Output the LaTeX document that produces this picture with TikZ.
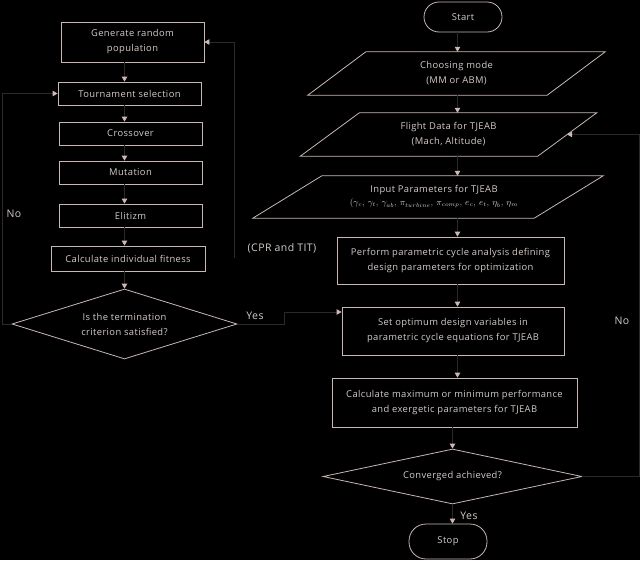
\documentclass[tikz,border=0pt]{standalone}
\usepackage{fontspec}
\setmainfont{Open Sans}[LetterSpace=4]
\usetikzlibrary{shapes.geometric,arrows.meta,calc}
\definecolor{linec}{RGB}{200,184,180}
\definecolor{textc}{RGB}{212,204,200}
\definecolor{connc}{RGB}{44,41,41}
\definecolor{tipc}{RGB}{205,185,180}
\newcommand\boxfont{\fontsize{9.4}{15}\selectfont}
\newcommand\labfont{\fontsize{10.5}{12}\selectfont}
\tikzset{
  base/.style={inner sep=0pt, align=center, text=textc, font=\boxfont},
  stepbox/.style={base, draw=linec, line width=0.8pt, rectangle},
  para/.style={base, rectangle},
  paraline/.style={draw=linec, line width=0.8pt},
  term/.style={base, draw=linec, line width=0.8pt, rectangle},
  decide/.style={base, draw=linec, line width=0.8pt, diamond},
  conn/.style={draw=connc, line width=0.8pt, -{Triangle[width=5.5pt,length=5pt,color=tipc]}},
  lab/.style={text=textc, font=\labfont, inner sep=0pt},
}
\begin{document}
\begin{tikzpicture}[x=1pt,y=-1pt]
\fill[black] (0,0) rectangle (640,560);
\useasboundingbox (0,0) rectangle (640,560);

% left column
\node[stepbox, minimum width=143pt, minimum height=40pt] (gen) at (132.5,42) {Generate random\\population};
\node[stepbox, minimum width=143pt, minimum height=23pt] (tour) at (129.5,93.5) {Tournament selection};
\node[stepbox, minimum width=143pt, minimum height=23pt] (cross) at (130.5,133.5) {Crossover};
\node[stepbox, minimum width=143pt, minimum height=23pt] (mut) at (130.5,172.5) {Mutation};
\node[stepbox, minimum width=143pt, minimum height=23pt] (elit) at (130.5,215.5) {Elitizm};
\node[stepbox, minimum width=154pt, minimum height=25pt] (fit) at (128,258.5) {Calculate individual fitness};
\node[decide, aspect=3.2, minimum width=225pt, minimum height=70pt] (termq) at (124.5,324) {Is the termination\\criterion satisfied?};

% right column
\node[term, rounded corners=15pt, minimum width=78pt, minimum height=30pt] (start) at (463,17) {Start};
\node[para, minimum width=239pt, minimum height=43pt] (choose) at (456.5,73.5) {Choosing mode\\(MM or ABM)};
\draw[paraline] ([xshift=-29pt]choose.south west) -- ([xshift=-29pt]choose.south east) -- ([xshift=29pt]choose.north east) -- ([xshift=29pt]choose.north west) -- cycle;
\node[para, minimum width=237pt, minimum height=43pt] (flight) at (448.5,134.5) {Flight Data for TJEAB\\(Mach, Altitude)};
\draw[paraline] ([xshift=-29.5pt]flight.south west) -- ([xshift=-29.5pt]flight.south east) -- ([xshift=29.5pt]flight.north east) -- ([xshift=29.5pt]flight.north west) -- cycle;
\node[para, minimum width=281pt, minimum height=42pt] (input) at (428,197) {\hspace*{12pt}Input Parameters for TJEAB\\[-2pt]\hspace*{12pt}{\fontsize{8.6}{10}\selectfont$(\gamma_c,\,\gamma_t,\,\gamma_{ab},\,\pi_{turbine},\,\pi_{comp},\,e_c,\,e_t,\,\eta_b,\,\eta_m$}};
\draw[paraline] ([xshift=-34.5pt]input.south west) -- ([xshift=-34.5pt]input.south east) -- ([xshift=34.5pt]input.north east) -- ([xshift=34.5pt]input.north west) -- cycle;
\node[stepbox, minimum width=227pt, minimum height=47pt] (perf) at (450.5,260.5) {Perform parametric cycle analysis defining\\design parameters for optimization};
\node[stepbox, minimum width=222pt, minimum height=48pt] (setopt) at (453,331) {Set optimum design variables in\\parametric cycle equations for TJEAB};
\node[stepbox, minimum width=245pt, minimum height=49pt] (calc) at (454.5,402.5) {Calculate maximum or minimum performance\\and exergetic parameters for TJEAB};
\node[decide, aspect=4.7, minimum width=259pt, minimum height=55pt] (conv) at (452.5,476.5) {Converged achieved?};
\node[term, rounded corners=17pt, minimum width=78pt, minimum height=35pt] (stop) at (448,541.5) {Stop};

% labels
\node[lab] (noL) at (14,214) {No};
\node[lab] (cpr) at (282,248) {(CPR and TIT)};
\node[lab] (yesL) at (255,316) {Yes};
\node[lab] (noR) at (622,321) {No};
\node[lab] (yesB) at (469,516) {Yes};

% left column connectors
\draw[conn] (termq.north |- gen.south) -- (termq.north |- tour.north);
\draw[conn] (termq.north |- tour.south) -- (termq.north |- cross.north);
\draw[conn] (termq.north |- cross.south) -- (termq.north |- mut.north);
\draw[conn] (termq.north |- mut.south) -- (termq.north |- elit.north);
\draw[conn] (termq.north |- elit.south) -- (termq.north |- fit.north);
\draw[conn] (termq.north |- fit.south) -- (termq.north);

% right column connectors
\coordinate (colR) at (457.5,0);
\draw[conn] (colR |- start.south) -- (colR |- choose.north);
\draw[conn] (colR |- choose.south) -- (colR |- flight.north);
\draw[conn] (colR |- flight.south) -- (colR |- input.north);
\draw[conn] (colR |- input.south) -- (colR |- perf.north);
\draw[conn] (colR |- perf.south) -- (colR |- setopt.north);
\draw[conn] (colR |- setopt.south) -- (colR |- calc.north);
\draw[conn] (conv.north |- calc.south) -- (conv.north);
\draw[conn] (conv.south) -- (conv.south |- stop.north);

% loops
\draw[conn] (termq.west) -- ++(-9,0) |- (tour.west);
\draw[conn] (termq.east) -- ++(47,0) |- ([yshift=19pt]setopt.west);
\coordinate (cprEnd) at (234,258);
\draw[conn] (cprEnd) |- (gen.east);
\draw[conn] (conv.east) -- ++(57,0) |- (flight.east);
\end{tikzpicture}
\end{document}
